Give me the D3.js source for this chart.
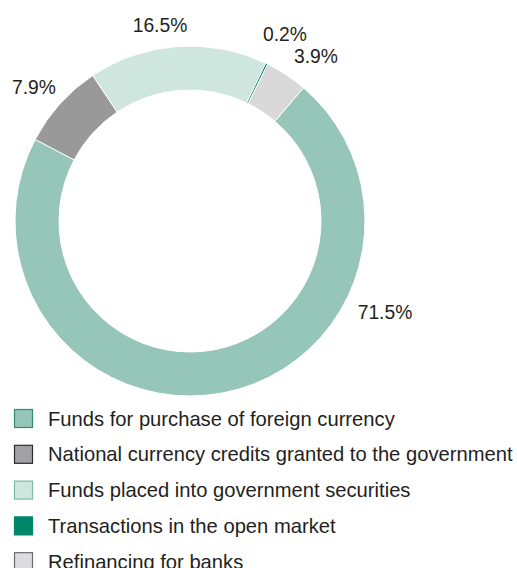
<!DOCTYPE html>
<html>
<head>
<meta charset="utf-8">
<script src="https://cdn.jsdelivr.net/npm/d3@7"></script>
<style>
  html, body { margin: 0; padding: 0; background: #fff; }
  svg { display: block; font-family: "Liberation Sans", Arial, Helvetica, sans-serif; }
</style>
</head>
<body>
<svg id="chart" width="517" height="568"></svg>
<script>
// Structure of the central bank's assets, share of total (%)
const categories = [
  "Funds for purchase of foreign currency",
  "National currency credits granted to the government",
  "Funds placed into government securities",
  "Transactions in the open market",
  "Refinancing for banks"
];
const shares = [71.5, 7.9, 16.5, 0.2, 3.9];
const shareLabels = ["71.5%", "7.9%", "16.5%", "0.2%", "3.9%"];

const sliceColors = ["#96c5b9", "#999999", "#cfe6df", "#00876a", "#d9d9d9"];
const swatchStroke = ["#2f8c73", "#2b2b2b", "#79bda9", "#00876a", "#6b6b6b"];
const swatchFill = ["#96c5b9", "#a2a2a6", "#cfe6df", "#00876a", "#dcdcde"];

// Label anchor points, relative to the ring centre
const labelOffsets = [[195, 91], [-156, -134], [-30, -196], [95, -187], [126, -165]];

const svg = d3.select("#chart");
const cx = 190, cy = 221, outerR = 175, innerR = 131;
const start = 40.4 * Math.PI / 180;

const pie = d3.pie().sort(null).value(d => d.value)
  .startAngle(start).endAngle(start + 2 * Math.PI);
const arc = d3.arc().innerRadius(innerR).outerRadius(outerR);

const data = categories.map((c, i) => ({ name: c, value: shares[i], label: shareLabels[i], i }));

const ring = svg.append("g").attr("transform", `translate(${cx},${cy})`);
ring.selectAll("path.slice")
  .data(pie(data))
  .join("path")
  .attr("class", "slice")
  .attr("d", arc)
  .attr("fill", d => sliceColors[d.data.i])
  .attr("stroke", "#fff")
  .attr("stroke-width", 1);

ring.selectAll("text.pct")
  .data(data)
  .join("text")
  .attr("class", "pct")
  .attr("x", d => labelOffsets[d.i][0])
  .attr("y", d => labelOffsets[d.i][1])
  .attr("dy", "0.36em")
  .attr("text-anchor", "middle")
  .attr("font-size", 19.3)
  .attr("fill", "#231f20")
  .text(d => d.label);

// Legend
const legendY = d3.scaleBand().domain(d3.range(categories.length)).range([409, 588]).paddingInner(0);
const legend = svg.append("g");
const rows = legend.selectAll("g.row")
  .data(data)
  .join("g")
  .attr("class", "row")
  .attr("transform", d => `translate(14,${legendY(d.i)})`);

rows.append("rect")
  .attr("x", 0.5).attr("y", 0.5)
  .attr("width", 18).attr("height", 18)
  .attr("fill", d => swatchFill[d.i])
  .attr("stroke", d => swatchStroke[d.i])
  .attr("stroke-width", 1.2);

rows.append("text")
  .attr("x", 34)
  .attr("y", 16.5)
  .attr("font-size", 20.2)
  .attr("fill", "#231f20")
  .text(d => d.name);
</script>
</body>
</html>
